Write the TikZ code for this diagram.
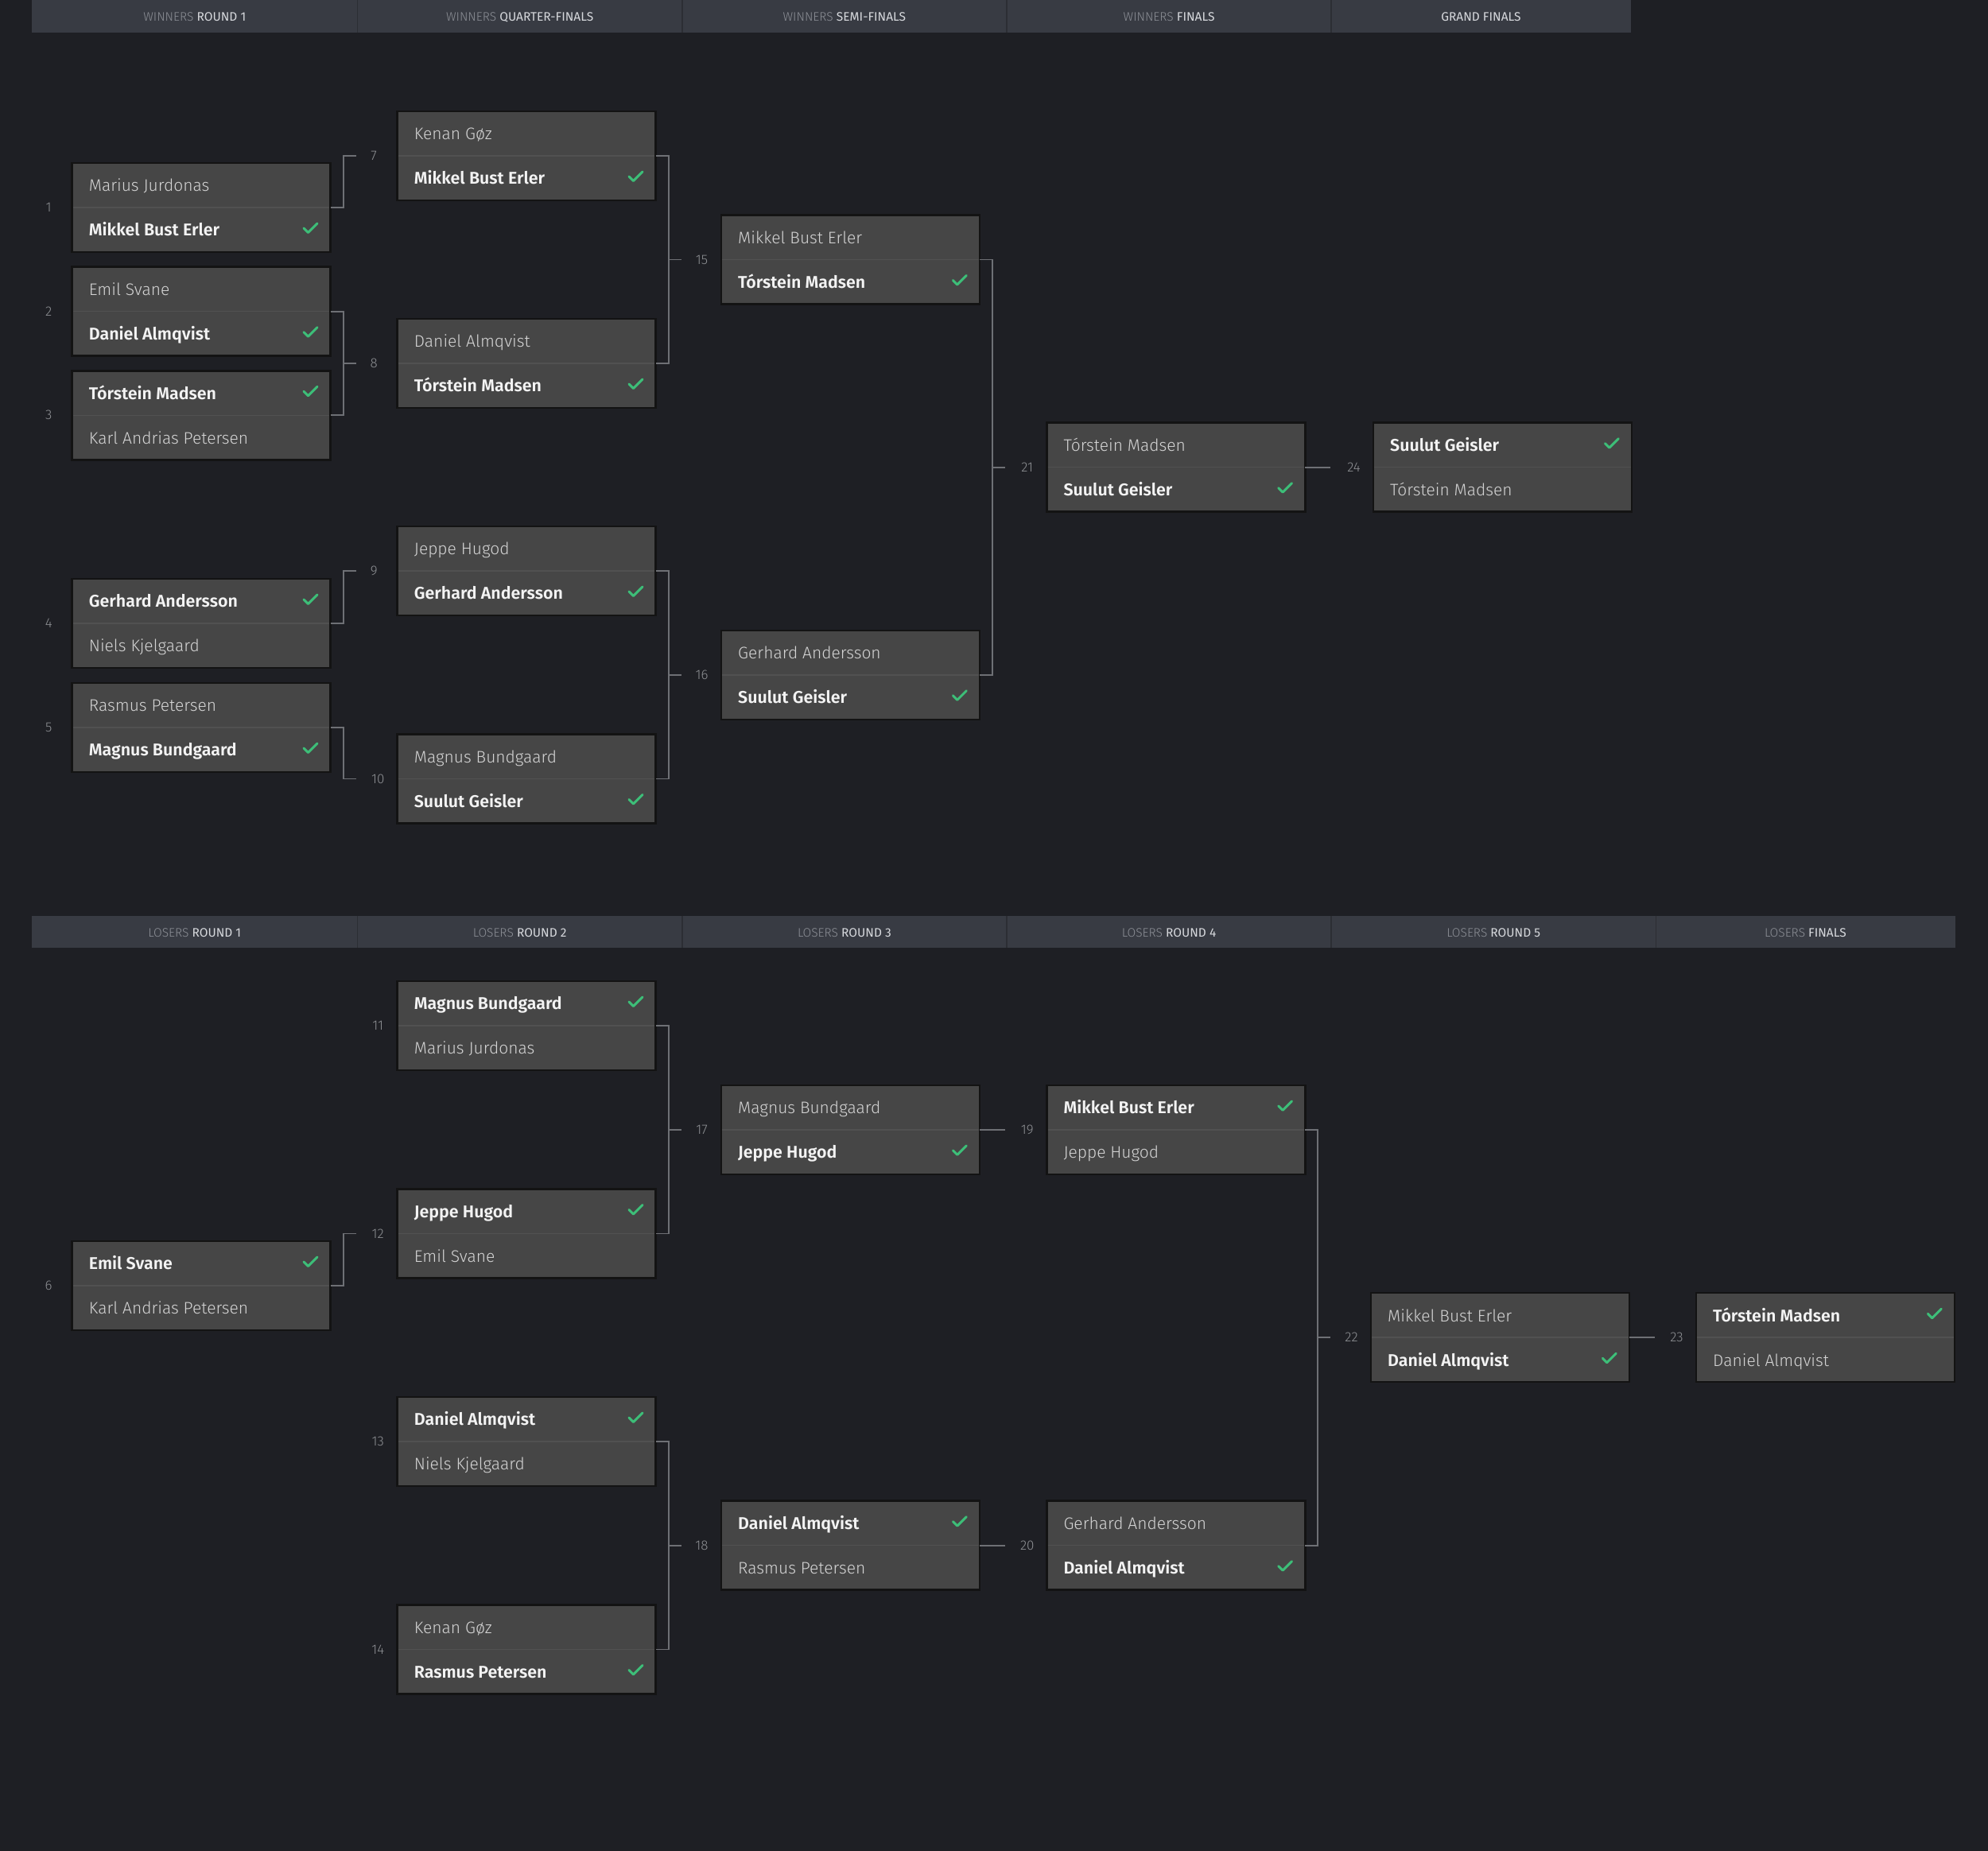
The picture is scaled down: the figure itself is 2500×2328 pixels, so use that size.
\documentclass[tikz,border=0pt]{standalone}
\usepackage{fontspec}
\setmainfont{Fira Sans}[UprightFont={* Light},BoldFont={* SemiBold}]
\newfontfamily\hreg{Fira Sans}
\usetikzlibrary{calc}
\definecolor{bg}{HTML}{1E1F24}
\definecolor{hdr}{HTML}{383B43}
\definecolor{hdiv}{HTML}{2C2E34}
\definecolor{boxfill}{HTML}{464646}
\definecolor{boxline}{HTML}{131313}
\definecolor{rowdiv}{HTML}{515151}
\definecolor{win}{HTML}{F3F3F3}
\definecolor{lose}{HTML}{D4D4D4}
\definecolor{chk}{HTML}{3DBE78}
\definecolor{conn}{HTML}{6E7075}
\definecolor{num}{HTML}{8E9094}
\definecolor{hdim}{HTML}{8C8F96}
\definecolor{hbright}{HTML}{D6D8DC}
\tikzset{
  box/.style={draw=boxline, line width=2.5pt, fill=boxfill, minimum width=325pt, minimum height=112pt, inner sep=0pt, outer sep=0pt},
  rowd/.style={draw=rowdiv, line width=1.5pt},
  nmw/.style={anchor=base west, inner sep=0pt, font=\fontsize{21.4}{26}\selectfont\bfseries, text=win},
  nml/.style={anchor=base west, inner sep=0pt, font=\fontsize{21}{26}\selectfont, text=lose},
  chkm/.style={draw=chk, line width=3pt, line cap=round, line join=round},
  lbl/.style={inner sep=0pt, font=\fontsize{17}{19}\selectfont, text=num},
  connl/.style={draw=conn, line width=1.8pt},
  htxt/.style={anchor=base, inner sep=0pt, font=\hreg\fontsize{15.5}{18}\selectfont, text=hbright},
  hsep/.style={draw=hdiv, line width=1.5pt}
}
% id, left x, center y, top name, bottom name, winner row (1/2)
\newcommand\mkmatch[6]{%
  \node[box] (m#1) at ({#2+162.5},#3) {};
  \draw[rowd] ($(m#1.west)+(1.3,0)$) -- ($(m#1.east)+(-1.3,0)$);
  \ifnum#6=1
    \node[nmw] (m#1a) at ($(m#1.west)+(21,-20.2)$) {#4};
    \node[nml] (m#1b) at ($(m#1.west)+(21,35.8)$) {#5};
    \draw[chkm] ($(m#1.east)+(-33.7,-30)$) -- ++(5.5,5.5) -- ++(11.5,-11.5);
  \else
    \node[nml] (m#1a) at ($(m#1.west)+(21,-20.2)$) {#4};
    \node[nmw] (m#1b) at ($(m#1.west)+(21,35.8)$) {#5};
    \draw[chkm] ($(m#1.east)+(-33.7,26)$) -- ++(5.5,5.5) -- ++(11.5,-11.5);
  \fi
  \ifnum#1<10 \def\lbx{29.5}\else\def\lbx{24.5}\fi
  \node[lbl] (n#1) at ({#2-\lbx},#3) {#1};
}
\newcommand\feedone[2]{%
  \path ($(m#1.east)+(32,0)$) coordinate (e#1);
  \draw[connl] (m#1.east) -- ++(16,0) |- (e#1 |- m#2.west);
}
\newcommand\feedtwo[3]{%
  \path ($(m#1.east)+(16,0)$) coordinate (v#3);
  \draw[connl] (m#1.east) -- (v#3) |- (m#2.east);
  \draw[connl] (v#3 |- m#3.west) -- ++(16,0);
}
\newcommand\feedstraight[1]{%
  \draw[connl] (m#1.east) -- ++(32,0);
}
\begin{document}
\begin{tikzpicture}[x=1pt,y=-1pt]
\fill[bg] (0,0) rectangle (2500,2328);
\useasboundingbox (0,0) rectangle (2500,2328);
% headers
\fill[hdr] (40,0) rectangle (2050.7,40.7);
\foreach \xx in {449.6,857.8,1266,1674.2} \draw[hsep] (\xx,0) -- (\xx,40.7);
\node[htxt] (hw1) at (244.8,26.9) {{\rmfamily\color{hdim}WINNERS} ROUND 1};
\node[htxt] (hw2) at (653.7,26.9) {{\rmfamily\color{hdim}WINNERS} QUARTER-FINALS};
\node[htxt] (hw3) at (1061.9,26.9) {{\rmfamily\color{hdim}WINNERS} SEMI-FINALS};
\node[htxt] (hw4) at (1470.1,26.9) {{\rmfamily\color{hdim}WINNERS} FINALS};
\node[htxt] (hw5) at (1862.4,26.9) {GRAND FINALS};
\fill[hdr] (40,1151.7) rectangle (2458.6,1192);
\foreach \xx in {449.6,857.8,1266,1674.2,2082.3} \draw[hsep] (\xx,1151.7) -- (\xx,1192);
\node[htxt] (hl1) at (244.8,1178.5) {{\rmfamily\color{hdim}LOSERS} ROUND 1};
\node[htxt] (hl2) at (653.7,1178.5) {{\rmfamily\color{hdim}LOSERS} ROUND 2};
\node[htxt] (hl3) at (1061.9,1178.5) {{\rmfamily\color{hdim}LOSERS} ROUND 3};
\node[htxt] (hl4) at (1470.1,1178.5) {{\rmfamily\color{hdim}LOSERS} ROUND 4};
\node[htxt] (hl5) at (1878.2,1178.5) {{\rmfamily\color{hdim}LOSERS} ROUND 5};
\node[htxt] (hl6) at (2270.4,1178.5) {{\rmfamily\color{hdim}LOSERS} FINALS};
% winners bracket
\mkmatch{1}{90.7}{261}{Marius Jurdonas}{Mikkel Bust Erler}{2}
\mkmatch{2}{90.7}{391.7}{Emil Svane}{Daniel Almqvist}{2}
\mkmatch{3}{90.7}{522.3}{Tórstein Madsen}{Karl Andrias Petersen}{1}
\mkmatch{4}{90.7}{784}{Gerhard Andersson}{Niels Kjelgaard}{1}
\mkmatch{5}{90.7}{915}{Rasmus Petersen}{Magnus Bundgaard}{2}
\mkmatch{7}{499.7}{196}{Kenan Gøz}{Mikkel Bust Erler}{2}
\mkmatch{8}{499.7}{457}{Daniel Almqvist}{Tórstein Madsen}{2}
\mkmatch{9}{499.7}{718}{Jeppe Hugod}{Gerhard Andersson}{2}
\mkmatch{10}{499.7}{979.5}{Magnus Bundgaard}{Suulut Geisler}{2}
\mkmatch{15}{907}{326.5}{Mikkel Bust Erler}{Tórstein Madsen}{2}
\mkmatch{16}{907}{848.8}{Gerhard Andersson}{Suulut Geisler}{2}
\mkmatch{21}{1316.3}{587.6}{Tórstein Madsen}{Suulut Geisler}{2}
\mkmatch{24}{1727}{587.6}{Suulut Geisler}{Tórstein Madsen}{1}
\feedone{1}{7}
\feedtwo{2}{3}{8}
\feedone{4}{9}
\feedone{5}{10}
\feedtwo{7}{8}{15}
\feedtwo{9}{10}{16}
\feedtwo{15}{16}{21}
\feedstraight{21}
% losers bracket
\mkmatch{6}{90.7}{1617}{Emil Svane}{Karl Andrias Petersen}{1}
\mkmatch{11}{499.7}{1290}{Magnus Bundgaard}{Marius Jurdonas}{1}
\mkmatch{12}{499.7}{1551.5}{Jeppe Hugod}{Emil Svane}{1}
\mkmatch{13}{499.7}{1813}{Daniel Almqvist}{Niels Kjelgaard}{1}
\mkmatch{14}{499.7}{2074.5}{Kenan Gøz}{Rasmus Petersen}{2}
\mkmatch{17}{907}{1420.8}{Magnus Bundgaard}{Jeppe Hugod}{2}
\mkmatch{18}{907}{1943.6}{Daniel Almqvist}{Rasmus Petersen}{1}
\mkmatch{19}{1316.3}{1420.8}{Mikkel Bust Erler}{Jeppe Hugod}{1}
\mkmatch{20}{1316.3}{1943.6}{Gerhard Andersson}{Daniel Almqvist}{2}
\mkmatch{22}{1724}{1682.2}{Mikkel Bust Erler}{Daniel Almqvist}{2}
\mkmatch{23}{2133}{1682.2}{Tórstein Madsen}{Daniel Almqvist}{1}
\feedone{6}{12}
\feedtwo{11}{12}{17}
\feedtwo{13}{14}{18}
\feedstraight{17}
\feedstraight{18}
\feedtwo{19}{20}{22}
\feedstraight{22}
\end{tikzpicture}
\end{document}
